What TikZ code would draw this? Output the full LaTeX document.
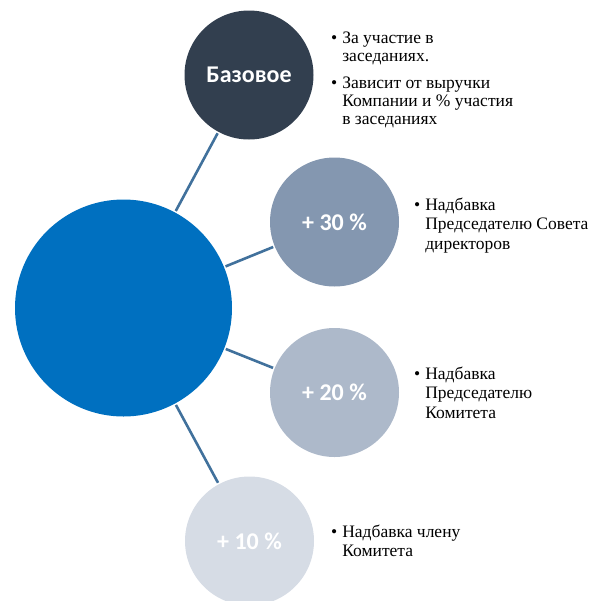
\documentclass[tikz,border=0pt]{standalone}
\usepackage{fontspec}
\setmainfont{Liberation Serif}
\newfontfamily\circfont{Carlito}
\usetikzlibrary{positioning}
\definecolor{FeeBlue}{HTML}{0070C0}
\definecolor{FeeNavy}{HTML}{323F4F}
\definecolor{FeeSlate}{HTML}{8497B0}
\definecolor{FeeGrey}{HTML}{ADB9CA}
\definecolor{FeePale}{HTML}{D6DCE5}
\definecolor{FeeLine}{HTML}{41719C}

\begin{document}
\begin{tikzpicture}[x=1pt,y=-1pt,
        hub/.style={circle,fill=FeeBlue,minimum size=217pt,inner sep=0pt},
        part/.style={circle,minimum size=129pt,inner sep=0pt,text=white,
                     font=\circfont\bfseries\fontsize{24}{28}\selectfont},
        note/.style={anchor=base west,inner sep=0pt,
                     font=\fontsize{17.5}{19.5}\selectfont},
        link/.style={FeeLine,line width=2.6pt,shorten <=1.5pt,shorten >=1.5pt}]
        \useasboundingbox (0,0) rectangle (602,600);
        % circles
        \node[hub] (fee) at (123.5,308) {};
        \node[part,fill=FeeNavy] (base) at (249,75) {Базовое};
        \node[part,fill=FeeSlate] (chair) at (334.5,222) {+ 30 \%};
        \node[part,fill=FeeGrey] (head) at (334.5,392.5) {+ 20 \%};
        \node[part,fill=FeePale] (member) at (249.5,541) {+ 10 \%};
        % spokes
        \draw[link] (fee)--(base);
        \draw[link] (fee)--(chair);
        \draw[link] (fee)--(head);
        \draw[link] (fee)--(member);
        % notes
        \node[note,font=\fontsize{17.5}{18}\selectfont] (basenote) at (331,43)
          {\begin{tabular}[t]{@{}l@{\hspace{5pt}}l@{}}
           \textbullet & За участие в\\
                       & заседаниях.\\[9pt]
           \textbullet & Зависит от выручки\\
                       & Компании и \% участия\\
                       & в заседаниях
           \end{tabular}};
        \node[note] (chairnote) at (414,210)
          {\begin{tabular}[t]{@{}l@{\hspace{5pt}}l@{}}
           \textbullet & Надбавка\\
                       & Председателю Совета\\
                       & директоров
           \end{tabular}};
        \node[note] (headnote) at (414,379)
          {\begin{tabular}[t]{@{}l@{\hspace{5pt}}l@{}}
           \textbullet & Надбавка\\
                       & Председателю\\
                       & Комитета
           \end{tabular}};
        \node[note] (membernote) at (331,537)
          {\begin{tabular}[t]{@{}l@{\hspace{5pt}}l@{}}
           \textbullet & Надбавка члену\\
                       & Комитета
           \end{tabular}};
      \end{tikzpicture}
\end{document}
